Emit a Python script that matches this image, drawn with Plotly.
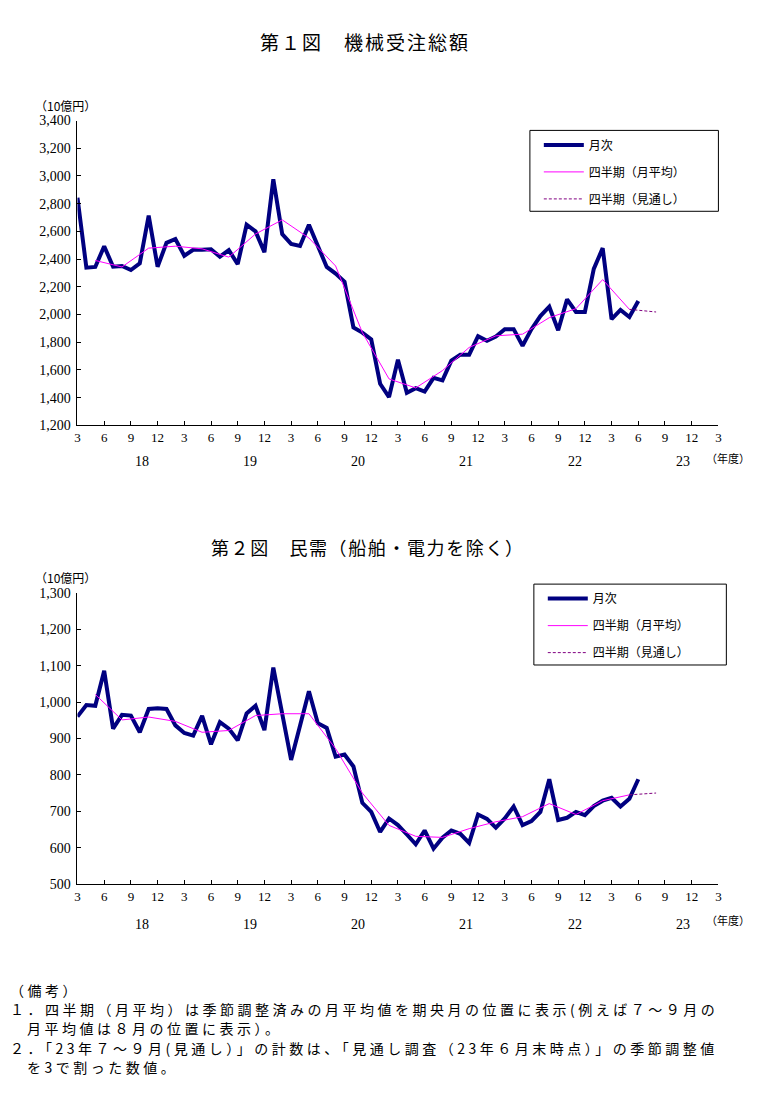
import plotly.graph_objects as go

# page is 781x1114; the browser body adds an 8px margin, so the figure is 16px smaller
PAGE_OFF = 8
W, H = 781 - 2 * PAGE_OFF, 1114 - 2 * PAGE_OFF

# ---------------- data ----------------
# Monthly series start at March 2018 (index 0) and run to June 2023
total_monthly = [2843, 2338, 2343, 2493, 2345, 2350, 2321, 2369, 2714, 2345,
                 2517, 2545, 2424, 2467, 2467, 2471, 2417, 2464, 2364, 2648,
                 2600, 2450, 2976, 2581, 2510, 2495, 2648, 2495, 2343, 2295,
                 2236, 1907, 1869, 1821, 1500, 1404, 1674, 1435, 1468, 1444,
                 1542, 1524, 1667, 1710, 1710, 1843, 1810, 1841, 1894, 1894,
                 1774, 1894, 1989, 2056, 1886, 2109, 2018, 2018, 2329, 2479,
                 1966, 2033, 1982, 2097]
total_quarterly = [2390, 2343, 2479, 2493, 2474, 2414, 2581, 2683, 2552, 2350,
                   1870, 1535, 1470, 1595, 1762, 1846, 1858, 1977, 2042, 2252,
                   2037]
total_outlook = [2037, 2018]

private_monthly = [960, 992, 990, 1086, 927, 965, 963, 917, 981, 983,
                   981, 936, 915, 908, 962, 884, 945, 927, 895, 969,
                   990, 923, 1095, 965, 841, 935, 1030, 942, 929, 850,
                   856, 823, 723, 698, 643, 680, 662, 636, 609, 647,
                   597, 627, 647, 638, 613, 691, 679, 655, 680, 713,
                   662, 673, 698, 788, 676, 682, 698, 689, 714, 729,
                   737, 713, 734, 788]
private_quarterly = [1021, 951, 959, 947, 917, 922, 963, 968, 968, 872,
                     750, 661, 631, 628, 652, 671, 685, 721, 691, 729,
                     745]
private_outlook = [745, 750]

month_ticks = ["3", "6", "9", "12"] * 6 + ["3"]
fiscal_years = ["18", "19", "20", "21", "22", "23"]

series_names = ["月次", "四半期（月平均）", "四半期（見通し）"]

# x positions: month index from March 2018
x_month = list(range(len(total_monthly)))
x_quarter = list(range(2, 2 + 3 * len(total_quarterly), 3))
x_outlook = [x_quarter[-1], x_quarter[-1] + 3]

JP = "Noto Sans CJK JP"
NUM = "Liberation Serif"


def px(x):
    return (x - PAGE_OFF) / W


def py(y):
    return 1 - (y - PAGE_OFF) / H


def spaced(t, sp):
    return f'<span style="letter-spacing:{sp}px">{t}</span>'


fig = go.Figure()

for (mon, qtr, outl, xa, ya, leg) in [
    (total_monthly, total_quarterly, total_outlook, "x", "y", "legend"),
    (private_monthly, private_quarterly, private_outlook, "x2", "y2", "legend2"),
]:
    fig.add_trace(go.Scatter(x=x_month, y=mon, mode="lines", name=series_names[0],
                             line=dict(color="#000080", width=4),
                             xaxis=xa, yaxis=ya, legend=leg, legendgroup=leg + "a"))
    fig.add_trace(go.Scatter(x=x_quarter, y=qtr, mode="lines", name=series_names[1],
                             line=dict(color="#FF00FF", width=1),
                             xaxis=xa, yaxis=ya, legend=leg, legendgroup=leg + "b"))
    fig.add_trace(go.Scatter(x=x_outlook, y=outl, mode="lines", name=series_names[2],
                             line=dict(color="#800080", width=1, dash="3px,2px"),
                             xaxis=xa, yaxis=ya, legend=leg, legendgroup=leg + "c"))

xaxis_common = dict(
    domain=[px(75), px(721)], range=[0, 72],
    tickmode="array", tickvals=list(range(0, 73, 3)), ticktext=month_ticks,
    ticks="inside", ticklen=4, tickcolor="black",
    showline=True, linecolor="black", linewidth=1,
    showgrid=False, zeroline=False,
    tickfont=dict(family=NUM, size=13, color="black"),
    ticklabelstandoff=0,
)
yaxis_common = dict(
    ticks="inside", ticklen=4, tickcolor="black",
    showline=True, linecolor="black", linewidth=1,
    showgrid=False, zeroline=False, tickformat=",",
    tickfont=dict(family=NUM, size=14, color="black"),
    ticklabelstandoff=3,
)

legend_common = dict(
    bgcolor="rgba(0,0,0,0)", borderwidth=0,
    font=dict(family=JP, size=12, color="black"),
    tracegroupgap=8, traceorder="grouped",
    xanchor="left", yanchor="top", itemwidth=40,
)

fig.update_layout(
    width=W, height=H, autosize=False,
    margin=dict(l=0, r=0, t=0, b=0),
    paper_bgcolor="white", plot_bgcolor="white",
    xaxis=dict(anchor="y", **xaxis_common),
    yaxis=dict(anchor="x", domain=[py(424), py(115)], range=[1200, 3400], dtick=200,
               **yaxis_common),
    xaxis2=dict(anchor="y2", **xaxis_common),
    yaxis2=dict(anchor="x2", domain=[py(889), py(594)], range=[500, 1300], dtick=100,
                **yaxis_common),
    legend=dict(x=px(540), y=py(125), **legend_common),
    legend2=dict(x=px(544), y=py(585), **legend_common),
    showlegend=True,
)

# legend frames
fig.add_shape(type="rect", xref="paper", yref="paper",
              x0=px(531), x1=px(721), y0=py(207), y1=py(125),
              line=dict(color="black", width=1))
fig.add_shape(type="rect", xref="paper", yref="paper",
              x0=px(535), x1=px(729), y0=py(667), y1=py(585),
              line=dict(color="black", width=1))

ann = []


def add_text(text, x, y, size, xanchor="center", family=JP, xref="paper", xval=None):
    ann.append(dict(text=text, x=px(x) if xval is None else xval, y=py(y),
                    xref=xref, yref="paper", xanchor=xanchor, yanchor="middle",
                    showarrow=False, font=dict(family=family, size=size, color="black")))


add_text(spaced("第１図　機械受注総額", 2), 365, 35, 19)
add_text(spaced("第２図　民需（船舶・電力を除く）", 1.6), 368, 547, 18)
for yy in (100, 578):
    add_text("（10億円）", 63, yy, 12)

for xa, yy, yl in (("x", 461, 457), ("x2", 930, 926)):
    for k, fy in enumerate(fiscal_years):
        add_text(fy, 0, yy, 14, family=NUM, xref=xa, xval=7.25 + 12.15 * k)
    add_text("（年度）", 731, yl, 11)

notes = [
    ("（備考）", 997, 5),
    ("１．四半期（月平均）は季節調整済みの月平均値を期央月の位置に表示(例えば７～９月の", 1016, 5),
    ("月平均値は８月の位置に表示）。", 1035, 22),
    ("２．「23年７～９月(見通し）」の計数は、「見通し調査（23年６月末時点）」の季節調整値", 1055, 5),
    ("を3で割った数値。", 1075, 22),
]
for t, yy, xx in notes:
    add_text(spaced(t, 3.5), xx, yy, 14, xanchor="left")

fig.update_layout(annotations=ann)

fig.write_html("out.html")
